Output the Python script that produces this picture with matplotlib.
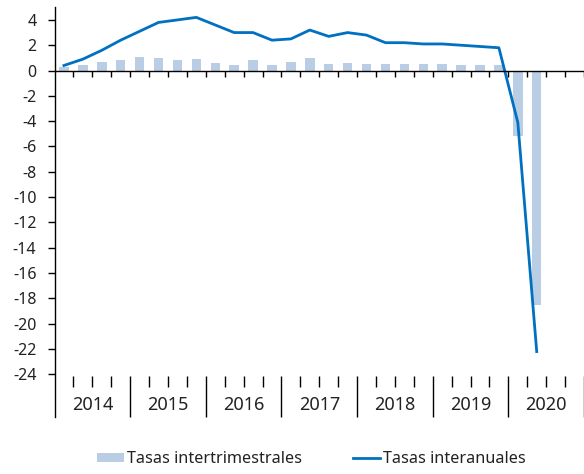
import numpy as np
import matplotlib
matplotlib.use("Agg")
import matplotlib.pyplot as plt
from matplotlib.patches import Patch
from matplotlib.lines import Line2D

# Quarterly data, 2014Q1 .. 2020Q2
years = [2014, 2015, 2016, 2017, 2018, 2019, 2020]
quarterly = [0.3, 0.4, 0.7, 0.8, 1.1, 1.0, 0.8, 0.9,
             0.6, 0.4, 0.8, 0.4, 0.7, 1.0, 0.5, 0.6,
             0.5, 0.5, 0.5, 0.5, 0.5, 0.4, 0.4, 0.4,
             -5.2, -18.5]
annual = [0.4, 0.9, 1.6, 2.4, 3.1, 3.8, 4.0, 4.2,
          3.6, 3.0, 3.0, 2.4, 2.5, 3.2, 2.7, 3.0,
          2.8, 2.2, 2.2, 2.1, 2.1, 2.0, 1.9, 1.8,
          -4.1, -22.2]
yticks = list(range(-24, 5, 2))

bar_color = "#b9cde5"
line_color = "#0070c0"
text_color = "#222222"
plt.rcParams["font.family"] = ["Noto Sans", "DejaVu Sans"]
plt.rcParams["axes.unicode_minus"] = False

fig = plt.figure(figsize=(5.84, 4.74), dpi=100)
ax = fig.add_axes([54.5 / 584, 1 - 417 / 474, 1 - 54.5 / 584, 410 / 474])

x = np.arange(len(quarterly))
ax.bar(x, quarterly, width=0.5, color=bar_color, zorder=2)
ax.plot(x, annual, color=line_color, lw=2.0, zorder=3)

nq = 4 * len(years)
ax.set_xlim(-0.5, nq - 0.5)
ax.set_ylim(-27.37, 5.02)

# zero line with quarter ticks
ax.axhline(0, color="black", lw=1, zorder=4)
ax.vlines(np.arange(1, nq + 1) - 0.5, -0.5, 0, color="black", lw=1, zorder=4, clip_on=False)

# category axis drawn below the -24 level
for i, yr in enumerate(years):
    start = 4 * i - 0.5
    ax.vlines([start + 1, start + 2, start + 3], -24.1, -25.0, color="black", lw=1)
    ax.vlines(start + 4, -24.1, -27.37, color="black", lw=1, clip_on=False)
    ax.text(start + 2, -26.45, str(yr), ha="center", va="center",
            fontsize=13, color=text_color)

for s in ["top", "right", "bottom"]:
    ax.spines[s].set_visible(False)
ax.spines["left"].set_linewidth(1)
ax.set_xticks([])
ax.set_yticks(yticks)
ax.tick_params(axis="y", direction="out", length=5, width=1, pad=8,
               labelsize=11.5, labelcolor=text_color)

handles = [Patch(facecolor=bar_color, edgecolor="none"),
           Line2D([0], [0], color=line_color, lw=2.0)]
fig.legend(handles, ["Tasas intertrimestrales", "Tasas interanuales"],
           loc="center", bbox_to_anchor=(311.5 / 584, 1 - 459 / 474),
           ncol=2, frameon=False, fontsize=11.7, handlelength=1.65,
           handleheight=0.5, handletextpad=0.2, columnspacing=3.1,
           labelcolor=text_color)

fig.savefig("out.png", dpi=100)
